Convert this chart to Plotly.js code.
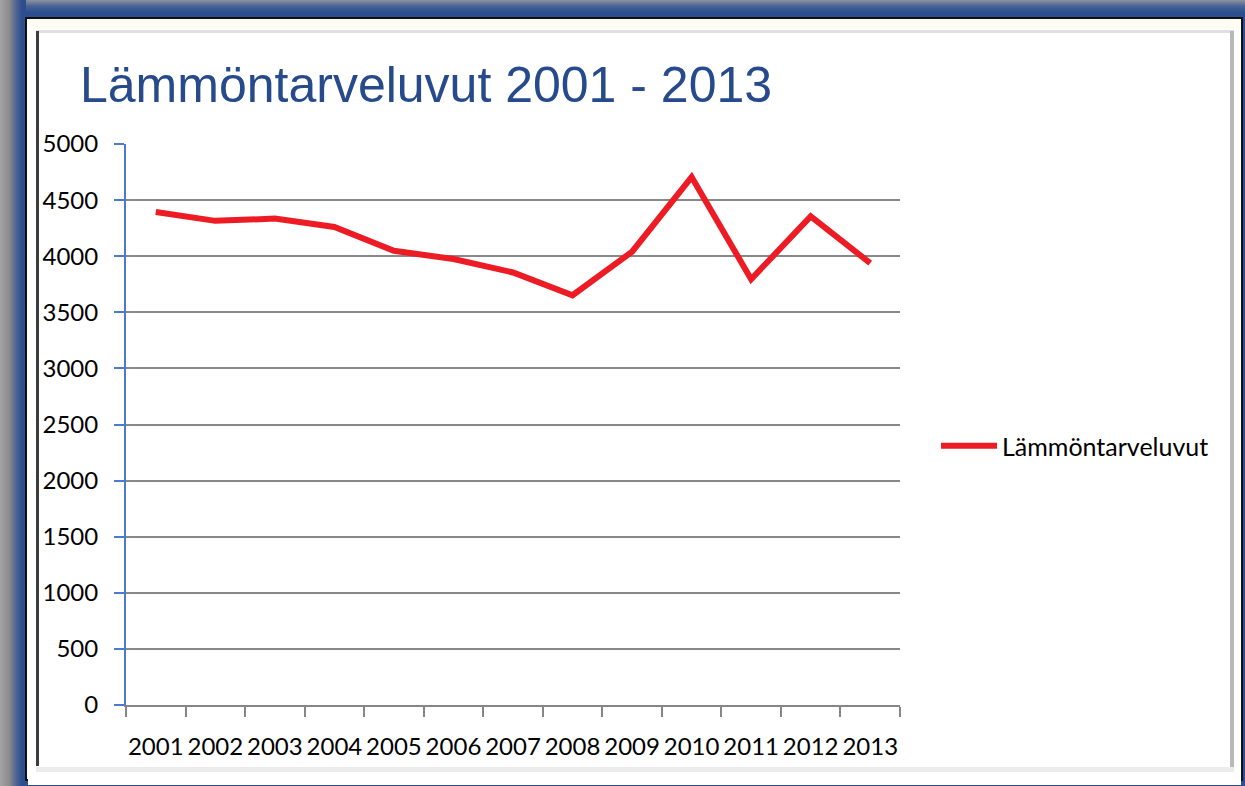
<!DOCTYPE html>
<html>
<head>
<meta charset="utf-8">
<script src="https://cdn.plot.ly/plotly-3.0.1.min.js"></script>
<style>
  html, body { margin:0; padding:0; width:1245px; height:786px; overflow:hidden; }
  #frame { position:absolute; left:0; top:0; width:1245px; height:786px;
    background: linear-gradient(to bottom, #8e939c 0px, #4a6396 6px, #2d4e8e 12px, #2d4e8e 100%); }
  #shadowL { position:absolute; left:0; top:0; width:26px; height:786px;
    background: linear-gradient(to right, #a3a3a3 0px, #8c8c8c 9px, #4f6593 16px, #2d4e8e 22px); }
  #black { position:absolute; left:25px; top:17px; width:1214px; height:760px;
    border:2px solid #111; background:#fdfdf6; }
  #inner { position:absolute; left:28px; top:20px; width:1213px; height:757px; background:#ffffff;
    border-top:8px solid #fdfdf3; }
  #lineTop { position:absolute; left:36px; top:30px; width:1198px; height:3px; background:#e0e0e0; }
  #lineLeft { position:absolute; left:36px; top:31px; width:3px; height:735px; background:#3d3d3d; }
  #lineRight { position:absolute; left:1230px; top:31px; width:4px; height:738px; background:#b9b9b9; }
  #lineBottom { position:absolute; left:36px; top:767px; width:1198px; height:5px; background:#ececec; }
  #chart { position:absolute; left:0; top:0; width:1245px; height:786px; }
</style>
</head>
<body>
<div id="frame"></div>
<div id="shadowL"></div>
<div id="black"></div>
<div id="inner"></div>
<div id="lineTop"></div>
<div id="lineLeft"></div>
<div id="lineRight"></div>
<div id="lineBottom"></div>
<div id="chart"></div>
<script>
const years = ['2001','2002','2003','2004','2005','2006','2007','2008','2009','2010','2011','2012','2013'];
const values = [4394, 4315, 4335, 4260, 4048, 3975, 3855, 3652, 4040, 4705, 3795, 4355, 3938];
const seriesName = 'Lämmöntarveluvut';
const chartTitle = 'Lämmöntarveluvut 2001 - 2013';
const yTicks = [0,500,1000,1500,2000,2500,3000,3500,4000,4500,5000];

const tickFont = {family:'Lato, "Open Sans", sans-serif', size:24, color:'#000000'};
const legendFont = {family:'Lato, "Open Sans", sans-serif', size:25, color:'#000000'};

Plotly.newPlot('chart', [{
  x: years, y: values, type:'scatter', mode:'lines', name: seriesName,
  line:{color:'#ed1c24', width:6}, showlegend:true
}], {
  width:1245, height:786,
  paper_bgcolor:'rgba(0,0,0,0)', plot_bgcolor:'rgba(0,0,0,0)',
  margin:{l:126, r:345, t:144, b:81},
  title:{text: chartTitle, x:80/1245, xanchor:'left', xref:'container', yref:'container',
    y:1-84/786, yanchor:'middle',
    font:{family:'"Liberation Sans", Arial, sans-serif', size:50, color:'#264a8c'}},
  xaxis:{type:'category', range:[-0.5, 12.5], tickson:'boundaries', ticks:'outside', ticklen:10, tickwidth:2, tickcolor:'#868686',
    showline:true, linecolor:'#868686', linewidth:2, showgrid:false, tickfont:tickFont, tickangle:0,
    ticklabelstandoff:19, fixedrange:true},
  yaxis:{range:[0,5000], tickvals:yTicks, ticktext:yTicks.map(String), ticks:'outside', ticklen:10, tickwidth:2,
    tickcolor:'#4a7bd0', showline:true, linecolor:'#4a7bd0', linewidth:2,
    showgrid:true, gridcolor:'#888888', gridwidth:2, zeroline:false, tickfont:tickFont,
    ticklabelstandoff:11, fixedrange:true},
  legend:{x:(936-126)/774, xanchor:'left', y:(705-446)/561, yanchor:'middle',
    font:legendFont, bgcolor:'rgba(0,0,0,0)', itemwidth:56}
}, {displayModeBar:false, staticPlot:true});
</script>
</body>
</html>
